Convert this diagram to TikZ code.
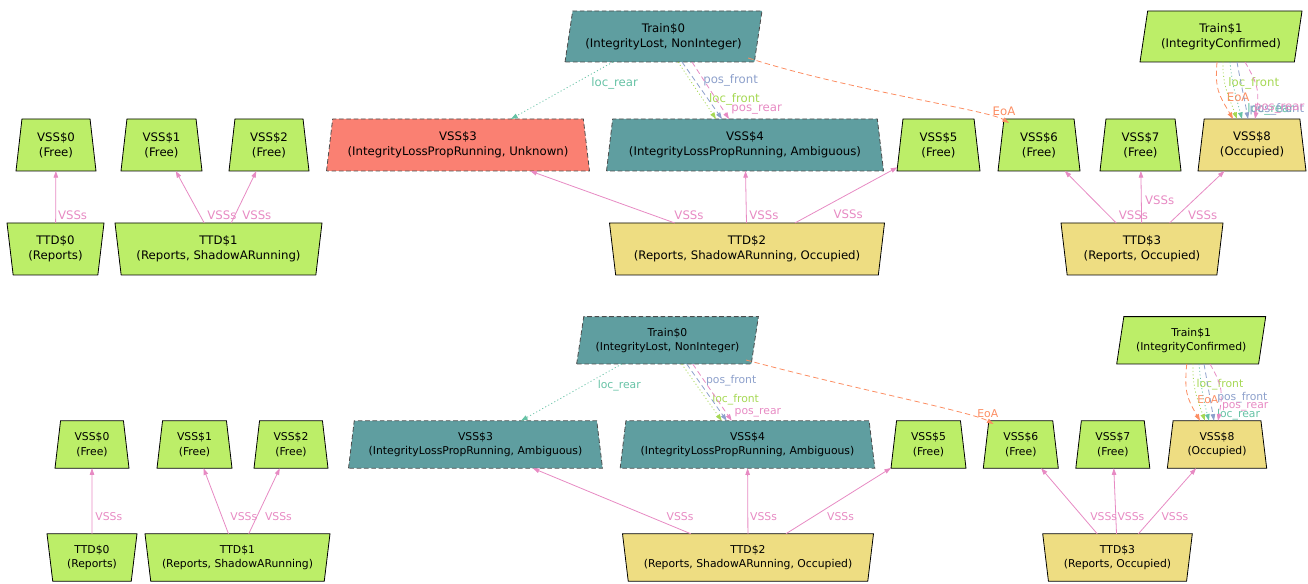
\documentclass[tikz,border=0pt]{standalone}
\usepackage{fontspec}
\setmainfont{DejaVu Sans}
\usetikzlibrary{arrows.meta, positioning, shapes.geometric, calc}

\definecolor{freegreen}{HTML}{BCEE68}
\definecolor{occyellow}{HTML}{EEDD82}
\definecolor{lostteal}{HTML}{5F9EA0}
\definecolor{unksalmon}{HTML}{FA8072}
\definecolor{edgeteal}{HTML}{66C2A5}
\definecolor{edgeorange}{HTML}{FC8D62}
\definecolor{edgeblue}{HTML}{8DA0CB}
\definecolor{edgepink}{HTML}{E78AC3}
\definecolor{edgegreen}{HTML}{A6D854}

\newcommand{\upperfont}{\fontsize{8.8}{11.5}\selectfont}
\newcommand{\lowerfont}{\fontsize{8.1}{10.8}\selectfont}

\tikzset{
	block/.style={trapezium, trapezium stretches body, draw=black, line width=0.6pt,
		inner sep=0pt, outer sep=0pt, align=center, minimum height=39pt},
	vss/.style={block, trapezium left angle=77, trapezium right angle=77},
	ttd/.style={block, trapezium left angle=77, trapezium right angle=77, shape border rotate=180},
	train/.style={block, trapezium left angle=74, trapezium right angle=106, minimum height=38.25pt},
	lower/.style={minimum height=35.6pt, font=\lowerfont},
	isfree/.style={fill=freegreen},
	isoccupied/.style={fill=occyellow},
	islost/.style={fill=lostteal, draw=black!70, dash pattern=on 3.5pt off 2pt},
	isunknown/.style={fill=unksalmon, draw=black!70, dash pattern=on 3.5pt off 2pt},
	link/.style={line width=0.6pt, -{Triangle[length=5pt, width=3.4pt]}},
	vsss/.style={link, edgepink},
	locrear/.style={link, edgeteal, dash pattern=on 0.8pt off 1.8pt},
	locfront/.style={link, edgegreen, dash pattern=on 0.8pt off 1.8pt},
	posfront/.style={link, edgeblue, dash pattern=on 4pt off 2.5pt},
	posrear/.style={link, edgepink, dash pattern=on 4pt off 2.5pt},
	eoa/.style={link, edgeorange, dash pattern=on 4pt off 2.5pt},
	lbl/.style={inner sep=1pt, anchor=west},
	llbl/.style={lbl, font=\lowerfont}
}

\begin{document}
\begin{tikzpicture}[x=0.75pt, y=-0.75pt, font=\upperfont]
	\useasboundingbox (0,0) rectangle (1308,584);

	% Upper instance: nodes
	\node[train, islost, minimum width=147.75pt] (train0) at (663.5,36.5) {Train\$0\\(IntegrityLost, NonInteger)};
	\node[train, isfree, minimum width=121.5pt] (train1) at (1221,36.5) {Train\$1\\(IntegrityConfirmed)};

	\node[vss, isfree, minimum width=60pt] (vss0) at (56,145) {VSS\$0\\(Free)};
	\node[vss, isfree, minimum width=60.75pt] (vss1) at (161.5,145) {VSS\$1\\(Free)};
	\node[vss, isfree, minimum width=60pt] (vss2) at (269,145) {VSS\$2\\(Free)};
	\node[vss, isunknown, minimum width=197.25pt] (vss3) at (458,145) {VSS\$3\\(IntegrityLossPropRunning, Unknown)};
	\node[vss, islost, minimum width=207.75pt] (vss4) at (745,145) {VSS\$4\\(IntegrityLossPropRunning, Ambiguous)};
	\node[vss, isfree, minimum width=62.25pt] (vss5) at (938.5,145) {VSS\$5\\(Free)};
	\node[vss, isfree, minimum width=61.5pt] (vss6) at (1039,145) {VSS\$6\\(Free)};
	\node[vss, isfree, minimum width=60.75pt] (vss7) at (1140.5,145) {VSS\$7\\(Free)};
	\node[vss, isoccupied, minimum width=81pt] (vss8) at (1252,145) {VSS\$8\\(Occupied)};

	\node[ttd, isfree, minimum width=72.75pt] (ttd0) at (55.5,249) {TTD\$0\\(Reports)};
	\node[ttd, isfree, minimum width=155.25pt] (ttd1) at (218.5,249) {TTD\$1\\(Reports, ShadowARunning)};
	\node[ttd, isoccupied, minimum width=206.25pt] (ttd2) at (747,249) {TTD\$2\\(Reports, ShadowARunning, Occupied)};
	\node[ttd, isoccupied, minimum width=121.5pt] (ttd3) at (1142,249) {TTD\$3\\(Reports, Occupied)};

	% Upper instance: edges
	\draw[vsss] (ttd0) -- node[lbl, pos=.15, xshift=.5pt] {VSSs} (vss0);
	\draw[vsss] (ttd1) -- node[lbl, pos=.15, xshift=4.25pt] {VSSs} (vss1);
	\draw[vsss] (ttd1) -- node[lbl, pos=.15, xshift=4.25pt] {VSSs} (vss2);
	\draw[vsss] (ttd2) -- node[lbl, pos=.15, xshift=14.75pt] {VSSs} (vss3);
	\draw[vsss] (ttd2) -- node[lbl, pos=.15, xshift=1pt] {VSSs} (vss4);
	\draw[vsss] (ttd2) -- node[lbl, pos=.15, xshift=16.25pt] {VSSs} (vss5);
	\draw[vsss] (ttd3) -- node[lbl, pos=.15, xshift=6.5pt] {VSSs} (vss6);
	\draw[vsss] (ttd3) -- node[lbl, pos=.44, xshift=1.6pt] {VSSs} (vss7);
	\draw[vsss] (ttd3) -- node[lbl, pos=.15, xshift=6.5pt] {VSSs} (vss8);

	\draw[locrear] ($(train0.center)+(-50.5,25.5)$) -- node[lbl, pos=.37, xshift=10.8pt] {loc\_rear} ($(vss3.center)+(53,-26)$);
	\draw[locfront] ($(train0.center)+(14.5,25.5)$) -- node[lbl, pos=.65, xshift=3.5pt] {loc\_front} ($(vss4.center)+(-29,-26)$);
	\draw[posfront] ($(train0.center)+(18.5,25.5)$) -- node[lbl, pos=.33, xshift=4.8pt] {pos\_front} ($(vss4.center)+(-23,-26)$);
	\draw[posrear] ($(train0.center)+(28.5,25.5)$) -- node[lbl, pos=.84, xshift=5pt] {pos\_rear} ($(vss4.center)+(-16,-26)$);
	\draw[eoa] ($(train0.center)+(84.7,21.5)$) .. controls (848,90) and (988,110) .. node[lbl, pos=.9, anchor=south, xshift=3.5pt, yshift=1pt] {EoA} ($(vss6.center)+(-30,-22)$);

	\draw[eoa] ($(train1.center)+(-4,25.5)$) to[out=-95, in=120, looseness=1.2] node[lbl, pos=.62, xshift=3pt] {EoA} ($(vss8.center)+(-19,-26)$);
	\draw[locfront] ($(train1.center)+(2,25.5)$) to[out=-92, in=110] node[lbl, pos=.35, xshift=1.5pt] {loc\_front} ($(vss8.center)+(-15,-26)$);
	\draw[locrear] ($(train1.center)+(9,25.5)$) to[out=-85, in=105] node[lbl, pos=.85, xshift=4.7pt] {loc\_rear} ($(vss8.center)+(-10,-26)$);
	\draw[posfront] ($(train1.center)+(16,25.5)$) to[out=-80, in=100] node[lbl, pos=.85, xshift=1.2pt] {pos\_front} ($(vss8.center)+(-4,-26)$);
	\draw[posrear] ($(train1.center)+(24,25.5)$) to[out=-60, in=80, looseness=1.2] node[lbl, pos=.85, xshift=-3.3pt] {pos\_rear} ($(vss8.center)+(3,-26)$);

	% Lower instance: nodes
	\node[train, lower, islost, minimum width=136.3pt, minimum height=35.5pt] (train0b) at (667.5,340.3) {Train\$0\\(IntegrityLost, NonInteger)};
	\node[train, lower, isfree, minimum width=111.75pt, minimum height=35.5pt] (train1b) at (1191.2,340.3) {Train\$1\\(IntegrityConfirmed)};

	\node[vss, lower, isfree, minimum width=55.5pt] (vss0b) at (92,444.5) {VSS\$0\\(Free)};
	\node[vss, lower, isfree, minimum width=56.25pt] (vss1b) at (194.5,444.5) {VSS\$1\\(Free)};
	\node[vss, lower, isfree, minimum width=55.5pt] (vss2b) at (291,444.5) {VSS\$2\\(Free)};
	\node[vss, lower, islost, minimum width=190.5pt] (vss3b) at (475.5,444.5) {VSS\$3\\(IntegrityLossPropRunning, Ambiguous)};
	\node[vss, lower, islost, minimum width=191pt] (vss4b) at (747.5,444.5) {VSS\$4\\(IntegrityLossPropRunning, Ambiguous)};
	\node[vss, lower, isfree, minimum width=56.25pt] (vss5b) at (928.5,444.5) {VSS\$5\\(Free)};
	\node[vss, lower, isfree, minimum width=56.25pt] (vss6b) at (1020.8,444.5) {VSS\$6\\(Free)};
	\node[vss, lower, isfree, minimum width=55.5pt] (vss7b) at (1112.8,444.5) {VSS\$7\\(Free)};
	\node[vss, lower, isoccupied, minimum width=74.5pt] (vss8b) at (1217,444.5) {VSS\$8\\(Occupied)};

	\node[ttd, lower, isfree, minimum width=67.5pt] (ttd0b) at (92,557.5) {TTD\$0\\(Reports)};
	\node[ttd, lower, isfree, minimum width=138.75pt] (ttd1b) at (237.5,557.5) {TTD\$1\\(Reports, ShadowARunning)};
	\node[ttd, lower, isoccupied, minimum width=188.25pt] (ttd2b) at (748,557.5) {TTD\$2\\(Reports, ShadowARunning, Occupied)};
	\node[ttd, lower, isoccupied, minimum width=112.2pt] (ttd3b) at (1117.5,557.5) {TTD\$3\\(Reports, Occupied)};

	% Lower instance: edges
	\draw[vsss] (ttd0b) -- node[llbl, pos=.256, xshift=1.25pt] {VSSs} (vss0b);
	\draw[vsss] (ttd1b) -- node[llbl, pos=.256, xshift=5pt] {VSSs} (vss1b);
	\draw[vsss] (ttd1b) -- node[llbl, pos=.256, xshift=5pt] {VSSs} (vss2b);
	\draw[vsss] (ttd2b) -- node[llbl, pos=.256, xshift=11pt] {VSSs} (vss3b);
	\draw[vsss] (ttd2b) -- node[llbl, pos=.256, xshift=.5pt] {VSSs} (vss4b);
	\draw[vsss] (ttd2b) -- node[llbl, pos=.256, xshift=9.5pt] {VSSs} (vss5b);
	\draw[vsss] (ttd3b) -- node[llbl, pos=.256, xshift=4.25pt] {VSSs} (vss6b);
	\draw[vsss] (ttd3b) -- node[llbl, pos=.256, xshift=0pt] {VSSs} (vss7b);
	\draw[vsss] (ttd3b) -- node[llbl, pos=.256, xshift=5pt] {VSSs} (vss8b);

	\draw[locrear] ($(train0b.center)+(-45.8,23.7)$) -- node[llbl, pos=.38, xshift=9.5pt] {loc\_rear} ($(vss3b.center)+(45.5,-23.75)$);
	\draw[locfront] ($(train0b.center)+(14.2,23.7)$) -- node[llbl, pos=.63, xshift=2.75pt] {loc\_front} ($(vss4b.center)+(-25.8,-23.75)$);
	\draw[posfront] ($(train0b.center)+(19.2,23.7)$) -- node[llbl, pos=.3, xshift=4.25pt] {pos\_front} ($(vss4b.center)+(-20.8,-23.75)$);
	\draw[posrear] ($(train0b.center)+(25.2,23.7)$) -- node[llbl, pos=.86, xshift=5pt] {pos\_rear} ($(vss4b.center)+(-15.8,-23.75)$);
	\draw[eoa] ($(train0b.center)+(78.5,19.7)$) .. controls (850,388) and (972,412) .. node[llbl, pos=.92, anchor=south, xshift=1pt, yshift=1pt] {EoA} ($(vss6b.center)+(-27.3,-20.5)$);

	\draw[eoa] ($(train1b.center)+(-4.5,23.7)$) to[out=-95, in=120, looseness=1.2] node[llbl, pos=.62, xshift=5pt] {EoA} ($(vss8b.center)+(-17,-23.75)$);
	\draw[locfront] ($(train1b.center)+(1.8,23.7)$) to[out=-92, in=110] node[llbl, pos=.35, xshift=.5pt] {loc\_front} ($(vss8b.center)+(-12,-23.75)$);
	\draw[locrear] ($(train1b.center)+(7.8,23.7)$) to[out=-85, in=105] node[llbl, pos=.9, xshift=6pt] {loc\_rear} ($(vss8b.center)+(-8,-23.75)$);
	\draw[posfront] ($(train1b.center)+(12.8,23.7)$) to[out=-80, in=100] node[llbl, pos=.6, xshift=4.2pt] {pos\_front} ($(vss8b.center)+(-3,-23.75)$);
	\draw[posrear] ($(train1b.center)+(18.8,23.7)$) to[out=-60, in=80, looseness=1.2] node[llbl, pos=.8, xshift=0pt] {pos\_rear} ($(vss8b.center)+(1,-23.75)$);

\end{tikzpicture}
\end{document}
